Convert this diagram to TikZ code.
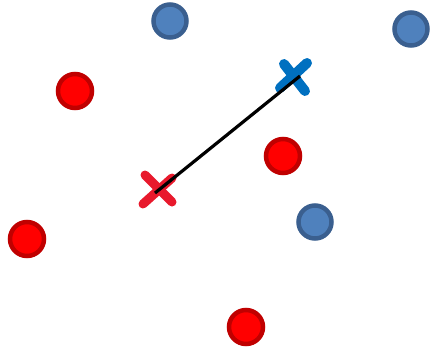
\documentclass[tikz,border=0pt]{standalone}
\begin{document}
\begin{tikzpicture}[x=1pt,y=-1pt,
  bluept/.style={circle,draw=bluedark,fill=bluefill,line width=4.5pt,minimum size=33pt,inner sep=0pt},
  redpt/.style={circle,draw=reddark,fill=redfill,line width=4.5pt,minimum size=34pt,inner sep=0pt},
  redx/.style={draw=redcross,line width=9pt,line cap=round},
  bluex/.style={draw=bluecross,line width=10pt,line cap=round}]
\definecolor{bluedark}{HTML}{3A5F8F}
\definecolor{bluefill}{HTML}{4F81BD}
\definecolor{reddark}{HTML}{C00000}
\definecolor{redfill}{HTML}{FF0000}
\definecolor{redcross}{HTML}{E8192C}
\definecolor{bluecross}{HTML}{0070C0}
\useasboundingbox (0,0) rectangle (431,349);
% blue points
\node[bluept] (b1) at (170,21) {};
\node[bluept] (b2) at (411,29) {};
\node[bluept] (b3) at (315,222) {};
% red points
\node[redpt] (r1) at (75,91) {};
\node[redpt] (r2) at (283,156) {};
\node[redpt] (r3) at (27,239) {};
\node[redpt] (r4) at (246,327) {};
% crosses
\coordinate (rxa) at (145,175);
\coordinate (rxb) at (172,202);
\coordinate (rxc) at (143,204);
\coordinate (rxd) at (172,178);
\draw[redx] (rxa) -- (rxb);
\draw[redx] (rxc) -- (rxd);
\coordinate (bxa) at (284,64);
\coordinate (bxb) at (305,91);
\coordinate (bxc) at (307,63);
\coordinate (bxd) at (280,88);
\draw[bluex] (bxa) -- (bxb);
\draw[bluex] (bxc) -- (bxd);
% connector
\coordinate (rc) at (155,193);
\coordinate (bc) at (300,76);
\draw[black,line width=3.2pt] (rc) -- (bc);
\end{tikzpicture}
\end{document}
